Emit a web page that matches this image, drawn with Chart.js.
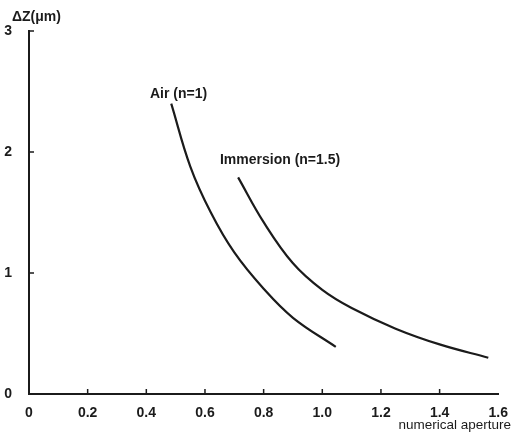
<!DOCTYPE html>
<html>
<head>
<meta charset="utf-8">
<script src="https://cdn.jsdelivr.net/npm/chart.js@4/dist/chart.umd.min.js"></script>
<style>
  html, body { margin: 0; padding: 0; background: #fff; }
  #wrap { width: 511px; height: 436px; }
</style>
</head>
<body>
<div id="wrap"><canvas id="chart" width="511" height="436"></canvas></div>
<script>
// values
const airNA = [0.485, 0.55, 0.62, 0.70, 0.80, 0.90, 1.046];
const airDZ = [2.40, 1.88, 1.50, 1.17, 0.87, 0.63, 0.39];
const immNA = [0.713, 0.80, 0.90, 1.00, 1.10, 1.25, 1.40, 1.566];
const immDZ = [1.79, 1.42, 1.08, 0.86, 0.71, 0.54, 0.41, 0.30];
const xTicks = [0, 0.2, 0.4, 0.6, 0.8, 1.0, 1.2, 1.4, 1.6];
const yTicks = [0, 1, 2, 3];

const ink = '#1b1b1b';
const family = '"Liberation Sans", Arial, sans-serif';

const toPoints = (xs, ys) => xs.map((x, i) => ({x, y: ys[i]}));

// inward tick marks, curve labels and axis titles
const paperPlugin = {
  id: 'paper',
  afterDraw(chart) {
    const {ctx, scales: {x, y}} = chart;
    ctx.save();
    ctx.strokeStyle = ink;
    ctx.lineWidth = 1.5;
    ctx.beginPath();
    xTicks.slice(1, -1).forEach(v => {
      const px = x.getPixelForValue(v);
      ctx.moveTo(px, y.bottom);
      ctx.lineTo(px, y.bottom - 5);
    });
    yTicks.slice(1).forEach(v => {
      const py = y.getPixelForValue(v);
      ctx.moveTo(x.left, py);
      ctx.lineTo(x.left + 5, py);
    });
    ctx.stroke();

    ctx.fillStyle = ink;
    ctx.font = 'bold 14px ' + family;
    ctx.textBaseline = 'middle';
    ctx.textAlign = 'center';
    ctx.fillText('Air (n=1)', x.getPixelForValue(0.51), y.getPixelForValue(2.48));
    ctx.fillText('Immersion (n=1.5)', x.getPixelForValue(0.856), y.getPixelForValue(1.93));
    ctx.textAlign = 'left';
    ctx.fillText('\u0394Z(\u03bcm)', 12, 17);
    ctx.textAlign = 'right';
    ctx.font = '13.5px ' + family;
    ctx.fillText('numerical aperture', 511, 425);
    ctx.restore();
  }
};

new Chart(document.getElementById('chart'), {
  type: 'scatter',
  data: {
    datasets: [
      {label: 'Air (n=1)', data: toPoints(airNA, airDZ)},
      {label: 'Immersion (n=1.5)', data: toPoints(immNA, immDZ)},
    ].map(ds => ({
      ...ds,
      showLine: true,
      borderColor: ink,
      borderWidth: 2.2,
      pointRadius: 0,
      tension: 0.4,
    })),
  },
  options: {
    responsive: false,
    animation: false,
    layout: {padding: {top: 31, right: 11, left: 0, bottom: 0}},
    plugins: {legend: {display: false}, tooltip: {enabled: false}},
    scales: {
      x: {
        type: 'linear',
        min: 0,
        max: 1.6,
        afterBuildTicks: s => { s.ticks = xTicks.map(value => ({value})); },
        afterFit: s => { s.height = 42; },
        border: {color: ink, width: 2},
        grid: {display: false},
        ticks: {
          color: ink,
          font: {family, size: 14, weight: 'bold'},
          padding: 3,
          maxRotation: 0,
          callback: v => v === 0 ? '0' : v.toFixed(1),
        },
      },
      y: {
        type: 'linear',
        min: 0,
        max: 3,
        afterBuildTicks: s => { s.ticks = yTicks.map(value => ({value})); },
        afterFit: s => { s.width = 29; },
        border: {color: ink, width: 2},
        grid: {display: false},
        ticks: {
          color: ink,
          font: {family, size: 14, weight: 'bold'},
          padding: 9,
        },
      },
    },
  },
  plugins: [paperPlugin],
});
</script>
</body>
</html>
